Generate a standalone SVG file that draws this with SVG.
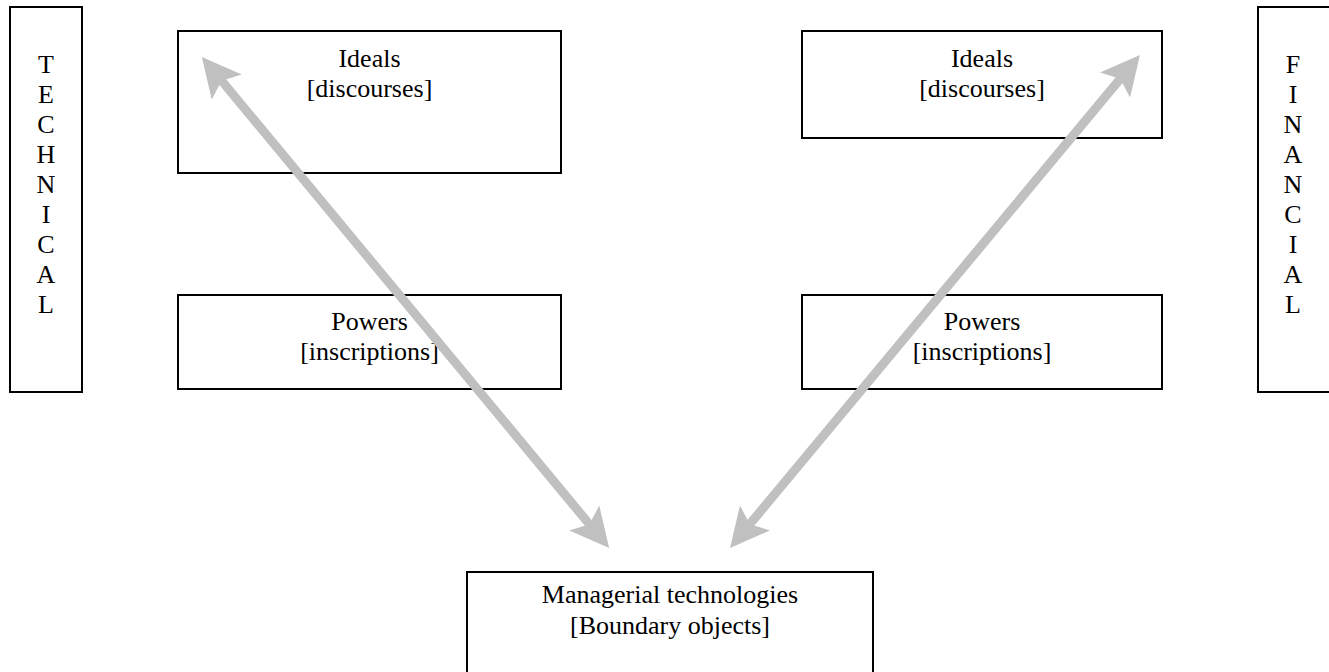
<svg xmlns="http://www.w3.org/2000/svg" width="1329" height="672" viewBox="0 0 1329 672">
<style>
.box{fill:#fff;stroke:#000;stroke-width:2}
.t{font-family:"Liberation Serif","Times New Roman",serif;font-size:26px;fill:#000;text-anchor:middle}
.arr{stroke:#c0c0c0;stroke-width:9;fill:none;marker-start:url(#head);marker-end:url(#head)}
</style>
<defs>
<marker id="head" markerUnits="userSpaceOnUse" viewBox="-12 -22 45 44" refX="0" refY="0" markerWidth="45" markerHeight="44" orient="auto-start-reverse" overflow="visible">
<path d="M30,0 L-9,-19.5 L-1,0 L-9,19.5 Z" fill="#c0c0c0"/>
</marker>
</defs>
<g id="technical">
<rect class="box" x="10" y="7" width="72" height="385"/>
<text class="t"><tspan x="46" y="73">T</tspan><tspan x="46" y="103">E</tspan><tspan x="46" y="133">C</tspan><tspan x="46" y="163">H</tspan><tspan x="46" y="193">N</tspan><tspan x="46" y="223">I</tspan><tspan x="46" y="253">C</tspan><tspan x="46" y="283">A</tspan><tspan x="46" y="313">L</tspan></text>
</g>
<g id="financial">
<rect class="box" x="1258" y="7" width="80" height="385"/>
<text class="t"><tspan x="1293" y="73">F</tspan><tspan x="1293" y="103">I</tspan><tspan x="1293" y="133">N</tspan><tspan x="1293" y="163">A</tspan><tspan x="1293" y="193">N</tspan><tspan x="1293" y="223">C</tspan><tspan x="1293" y="253">I</tspan><tspan x="1293" y="283">A</tspan><tspan x="1293" y="313">L</tspan></text>
</g>
<g id="ideals-left">
<rect class="box" x="178" y="31" width="383" height="142"/>
<text class="t"><tspan x="369.5" y="67">Ideals</tspan><tspan x="369.5" y="97">[discourses]</tspan></text>
</g>
<g id="powers-left">
<rect class="box" x="178" y="295" width="383" height="94"/>
<text class="t"><tspan x="369.5" y="330">Powers</tspan><tspan x="369.5" y="360">[inscriptions]</tspan></text>
</g>
<g id="ideals-right">
<rect class="box" x="802" y="31" width="360" height="107"/>
<text class="t"><tspan x="982" y="67">Ideals</tspan><tspan x="982" y="97">[discourses]</tspan></text>
</g>
<g id="powers-right">
<rect class="box" x="802" y="295" width="360" height="94"/>
<text class="t"><tspan x="982" y="330">Powers</tspan><tspan x="982" y="360">[inscriptions]</tspan></text>
</g>
<g id="managerial">
<rect class="box" x="467" y="572" width="406" height="120"/>
<text class="t"><tspan x="670" y="603">Managerial technologies</tspan><tspan x="670" y="634">[Boundary objects]</tspan></text>
</g>
<g id="connectors">
<line class="arr" x1="221" y1="80" x2="590" y2="525"/>
<line class="arr" x1="749.2" y1="524.9" x2="1120.8" y2="78.1"/>
</g>
</svg>
